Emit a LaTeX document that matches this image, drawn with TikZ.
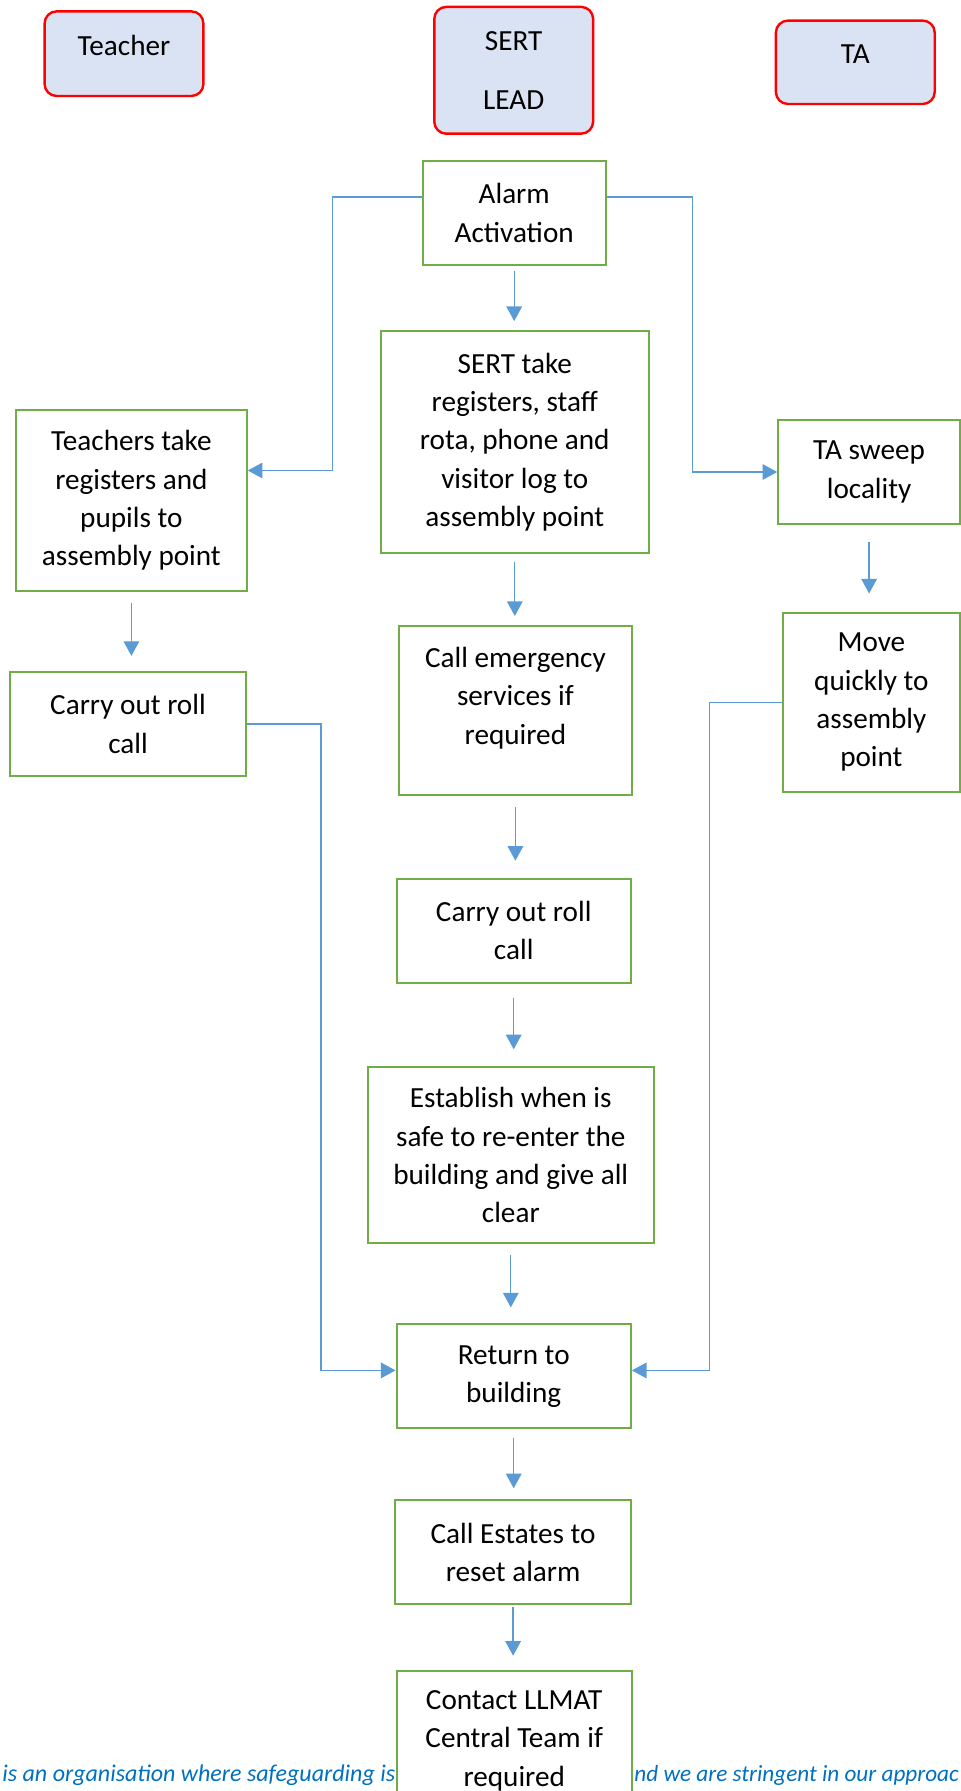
\documentclass[tikz,border=0pt]{standalone}
\usepackage{fontspec}
\setmainfont{Carlito}
\usetikzlibrary{arrows.meta}
\definecolor{boxgreen}{HTML}{70AD47}
\definecolor{linkblue}{HTML}{5B9BD5}
\definecolor{rolefill}{HTML}{DAE3F3}
\definecolor{notetext}{HTML}{0070C0}
\begin{document}
\begin{tikzpicture}[x=0.5pt,y=-0.5pt,
  role/.style={draw=red,line width=1.2pt,fill=rolefill,rounded corners=6pt,minimum width=79.4pt,inner sep=1pt,align=center,font=\fontsize{14.6}{19.2}\selectfont},
  stepbox/.style={draw=boxgreen,line width=1pt,fill=white,inner sep=1pt,align=center,font=\fontsize{14.6}{19.2}\selectfont},
  note/.style={text=notetext,inner sep=0pt,font=\fontsize{11.6}{14}\selectfont\itshape},
  link/.style={draw=linkblue,line width=0.65pt,-{Triangle[length=7.3pt,width=7.8pt]}}]
\useasboundingbox (0,0) rectangle (961,1791);
\clip (0,0) rectangle (961,1791);
% footer line, partly behind the last box
\node[note,font=\fontsize{12}{14}\selectfont\itshape,anchor=base west] (noteleft) at (2,1781) {is an organisation where safeguarding is};
\node[note,anchor=base west] (noteright) at (634,1781) {nd we are stringent in our approac};
% roles
\node[role,minimum height=42.3pt,text height=10pt,text depth=8.4pt] (teacher) at (124,53.7) {Teacher};
\node[role,minimum height=63.4pt] (lead) at (513.7,70.3) {SERT\\[10.5pt]LEAD};
\node[role,minimum height=41.7pt,text height=10pt,text depth=9.2pt] (ta) at (855.3,62.3) {TA};
% steps
\node[stepbox,minimum width=91.4pt,minimum height=52pt] (alarm) at (514.2,213.1) {Alarm\\Activation};
\node[stepbox,minimum width=134.3pt,minimum height=110.9pt] (sertreg) at (514.8,442.2) {SERT take\\registers, staff\\rota, phone and\\visitor log to\\assembly point};
\node[stepbox,minimum width=115.4pt,minimum height=90.3pt] (teachreg) at (131.4,500.5) {Teachers take\\registers and\\pupils to\\assembly point};
\node[stepbox,minimum width=90.9pt,minimum height=51.5pt] (sweep) at (869.1,472) {TA sweep\\locality};
\node[stepbox,minimum width=117.7pt,minimum height=52pt] (rolll) at (128,723.9) {Carry out roll\\call};
\node[stepbox,minimum width=116.6pt,minimum height=84.6pt,text height=45pt,text depth=11.6pt] (emerg) at (515.4,710.8) {Call emergency\\services if\\required};
\node[stepbox,minimum width=88.6pt,minimum height=89.7pt] (moveq) at (871.4,702.2) {Move\\quickly to\\assembly\\point};
\node[stepbox,minimum width=117.2pt,minimum height=52pt] (rollc) at (513.7,930.7) {Carry out roll\\call};
\node[stepbox,minimum width=142.9pt,minimum height=88pt] (estab) at (510.8,1155.3) {Establish when is\\safe to re-enter the\\building and give all\\clear};
\node[stepbox,minimum width=117.2pt,minimum height=52pt] (ret) at (513.7,1376.4) {Return to\\building};
\node[stepbox,minimum width=117.7pt,minimum height=52pt] (estates) at (513.1,1552.3) {Call Estates to\\reset alarm};
\node[stepbox,minimum width=117.7pt,minimum height=70pt] (llmat) at (514.2,1740.7) {Contact LLMAT\\Central Team if\\required};
% links
\draw[link,shorten <=2.3pt,shorten >=4.6pt] (alarm.south) -- (alarm.south |- sertreg.north);
\draw[link,shorten <=4pt,shorten >=4.6pt] (sertreg.south) -- (sertreg.south |- emerg.north);
\draw[link,shorten <=5.5pt,shorten >=7.5pt] (teachreg.south) -- (teachreg.south |- rolll.north);
\draw[link,shorten <=8.5pt,shorten >=9pt] (sweep.south) -- (sweep.south |- moveq.north);
\draw[link,shorten <=5.5pt,shorten >=8.5pt] (emerg.south) -- (emerg.south |- rollc.north);
\draw[link,shorten <=7pt,shorten >=8.5pt] (rollc.south) -- (rollc.south |- estab.north);
\draw[link,shorten <=5.5pt,shorten >=8pt] (estab.south) -- (estab.south |- ret.north);
\draw[link,shorten <=4.5pt,shorten >=5.5pt] (ret.south) -- (ret.south |- estates.north);
\draw[link,shorten <=1pt,shorten >=7pt] (estates.south) -- (estates.south |- llmat.north);
\draw[link] ([yshift=8pt]alarm.west) -| (332.5,300) |- ([yshift=15pt]teachreg.east);
\draw[link] ([yshift=8pt]alarm.east) -| (692.5,300) |- (sweep.west);
\draw[link] (rolll.east) -| (321,1000) |- ([yshift=3pt]ret.west);
\draw[link] (moveq.west) -| (709.6,1000) |- ([yshift=3pt]ret.east);
\end{tikzpicture}
\end{document}
